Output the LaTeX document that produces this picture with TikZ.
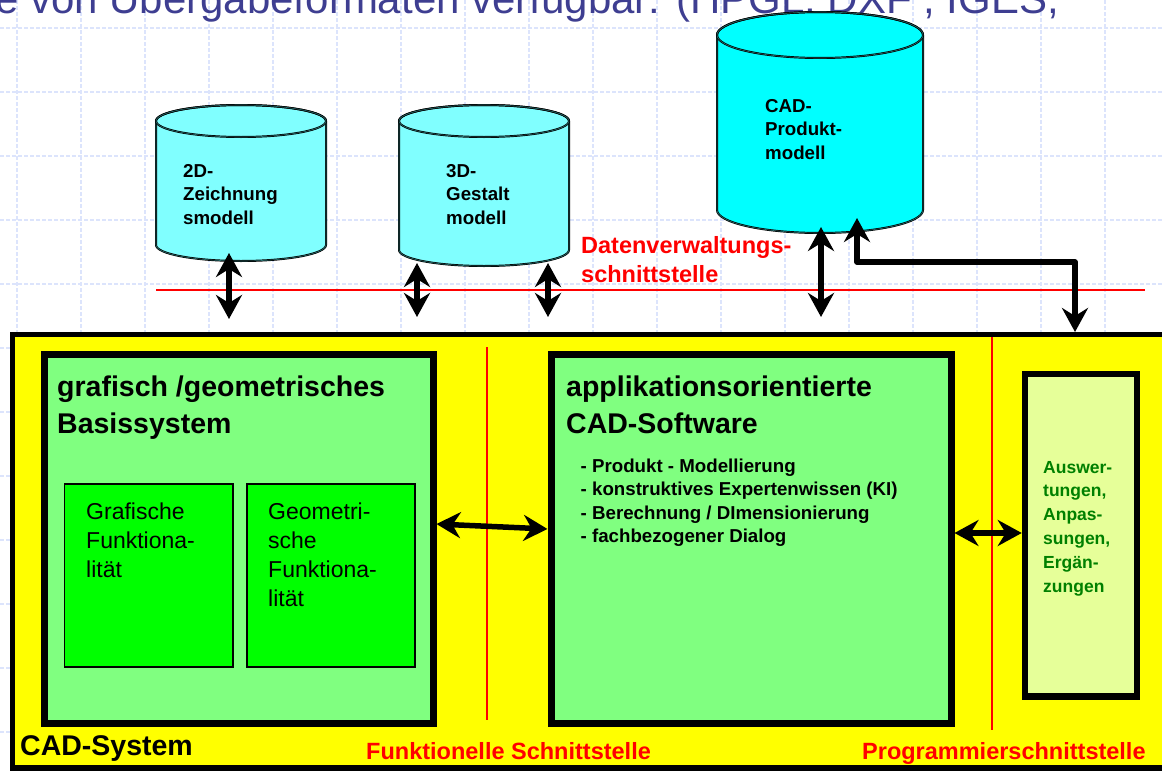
\documentclass[tikz,border=0pt]{standalone}
\usepackage{fontspec}
\setmainfont{Liberation Sans}
\usetikzlibrary{arrows.meta}

\definecolor{folienblau}{RGB}{62,62,145}
\definecolor{gitterblau}{RGB}{220,228,252}
\definecolor{zylhell}{RGB}{128,255,255}
\definecolor{zylcyan}{RGB}{0,255,255}
\definecolor{zylrandfarbe}{RGB}{40,110,110}
\definecolor{hellgruen}{RGB}{128,255,128}
\definecolor{vollgruen}{RGB}{0,255,0}
\definecolor{gelb}{RGB}{255,255,0}
\definecolor{blassgelb}{RGB}{230,255,153}
\definecolor{schriftgruen}{RGB}{0,128,0}

\tikzset{
  gitter/.style={draw=gitterblau, line width=1.2pt, dash pattern=on 4pt off 2pt},
  zylrand/.style={draw=black, line width=0.7pt, double=zylrandfarbe, double distance=0.6pt},
  sysrahmen/.style={draw=black, line width=5.5pt, fill=gelb, inner sep=0pt},
  rahmen/.style={draw=black, line width=7pt, fill=hellgruen, inner sep=0pt},
  fkasten/.style={draw=black, line width=1.8pt, fill=vollgruen, inner sep=0pt},
  rotlinie/.style={draw=red, line width=1.1pt},
  pfeil/.style={<->, line width=5.5pt, line join=round},
  titel/.style={font=\fontsize{28.5}{37}\selectfont\bfseries, align=left, anchor=base west, inner sep=0pt},
  zyltext/.style={font=\fontsize{18.7}{23.5}\selectfont\bfseries, align=left, anchor=base west, inner sep=0pt},
  rottext/.style={font=\fontsize{23.5}{29.5}\selectfont\bfseries, text=red, align=left, anchor=base west, inner sep=0pt},
  normtext/.style={font=\fontsize{23}{29}\selectfont, align=left, anchor=base west, inner sep=0pt}
}

% Datenbank-Zylinder: Mitte x, oberes y, unteres y, Radius x, Radius y, Fuellung
\newcommand{\zylinder}[6]{%
  \filldraw[zylrand, fill=#6] (#1-#4,#2) -- (#1-#4,#3)
    arc[start angle=180, end angle=360, x radius=#4pt, y radius=#5pt]
    -- (#1+#4,#2) arc[start angle=0, end angle=180, x radius=#4pt, y radius=#5pt] -- cycle;
  \draw[zylrand] (#1,#2) ellipse[x radius=#4pt, y radius=#5pt];
}

\begin{document}
\begin{tikzpicture}[x=1pt, y=-1pt, >={Stealth[length=24pt, width=26pt, inset=8pt]}]
    \useasboundingbox (0,0) rectangle (1162,771);

    % Hintergrundraster
    \foreach \gx in {17,81,...,1169} {
        \draw[gitter] (\gx,0) -- (\gx,771);
    }
    \foreach \gy in {28,92,...,796} {
        \draw[gitter] (0,\gy) -- (1162,\gy);
    }

    % Folientext oben (abgeschnitten)
    \node[font=\fontsize{42}{50}\selectfont, text=folienblau, anchor=base west, inner sep=0pt] (kopf) at (-5,13)
        {e von Übergabeformaten verfügbar: (HPGL, DXF , IGES,};

    % Modelle (Grundlinie = letzte Zeile)
    \zylinder{241}{121}{245}{85}{16}{zylhell}
    \zylinder{484}{121}{250}{85}{16}{zylhell}
    \zylinder{820}{35}{210}{103}{23}{zylcyan}
    \node[zyltext] (zm) at (183,224) {2D-\\Zeichnung\\smodell};
    \node[zyltext] (gm) at (446,224) {3D-\\Gestalt\\modell};
    \node[zyltext] (pm) at (765,159) {CAD-\\Produkt-\\modell};

    % Datenverwaltungsschnittstelle
    \draw[rotlinie] (156,290) -- (1145,290);
    \node[rottext] (dvs) at (581,282.5) {Datenverwaltungs-\\schnittstelle};

    % CAD-System
    \node[sysrahmen, minimum width=1163pt, minimum height=433.5pt] (cad) at (594,551.25) {};
    \draw[rotlinie, line width=1.5pt] (487,347) -- (487,720);
    \draw[rotlinie] (992,337) -- (992,730);

    % Basissystem
    \node[rahmen, minimum width=389pt, minimum height=368.5pt] (basis) at (238.5,538.75) {};
    \node[titel] (basistxt) at (57,433) {grafisch /geometrisches\\Basissystem};
    \node[fkasten, minimum width=168.6pt, minimum height=183pt] (gf) at (148.7,575.5) {};
    \node[fkasten, minimum width=168pt, minimum height=183pt] (gg) at (331,575.5) {};
    \node[normtext] (gftxt) at (86,577) {Grafische\\Funktiona-\\lität};
    \node[normtext] (ggtxt) at (268,606) {Geometri-\\sche\\Funktiona-\\lität};

    % applikationsorientierte Software
    \node[rahmen, minimum width=400pt, minimum height=368.5pt] (appl) at (751,538.75) {};
    \node[titel] (appltxt) at (566,433) {applikationsorientierte\\CAD-Software};
    \node[zyltext] (punkte) at (580.5,542.5) {- Produkt - Modellierung\\- konstruktives Expertenwissen (KI)\\- Berechnung / DImensionierung\\- fachbezogener Dialog};

    % Auswertungen
    \node[rahmen, line width=6.5pt, fill=blassgelb, minimum width=112pt, minimum height=322.5pt] (ausw) at (1081,535.25) {};
    \node[font=\fontsize{17.5}{23.8}\selectfont\bfseries, text=schriftgruen, align=left, anchor=base west, inner sep=0pt] (auswtxt) at (1043,592)
        {Auswer-\\tungen,\\Anpas-\\sungen,\\Ergän-\\zungen};

    % Beschriftungen unten
    \node[titel] (cadtxt) at (20,755) {CAD-System};
    \node[rottext] (fs) at (366,759) {Funktionelle Schnittstelle};
    \node[rottext] (ps) at (862,759) {Programmierschnittstelle};

    % Pfeile
    \coordinate (zm-o) at (229,253);
    \coordinate (zm-u) at (229,319);
    \coordinate (gm-lo) at (417,263);
    \coordinate (gm-lu) at (417,317);
    \coordinate (gm-ro) at (548,263);
    \coordinate (gm-ru) at (548,317);
    \coordinate (pm-o) at (821,227);
    \coordinate (pm-u) at (821,317);
    \coordinate (pm-r) at (857,218);
    \coordinate (knick) at (1075,262);
    \coordinate (ausw-ein) at (1075,332);
    \draw[pfeil] (zm-o) -- (zm-u);
    \draw[pfeil] (gm-lo) -- (gm-lu);
    \draw[pfeil] (gm-ro) -- (gm-ru);
    \draw[pfeil] (pm-o) -- (pm-u);
    \draw[pfeil] (pm-r) |- (knick) -- (ausw-ein);
    \draw[pfeil] ([yshift=14.75pt]basis.east) -- ([yshift=9.75pt]appl.west);
    \draw[pfeil] ([yshift=5.75pt]appl.east) -- ([yshift=2.25pt]ausw.west);
\end{tikzpicture}
\end{document}
